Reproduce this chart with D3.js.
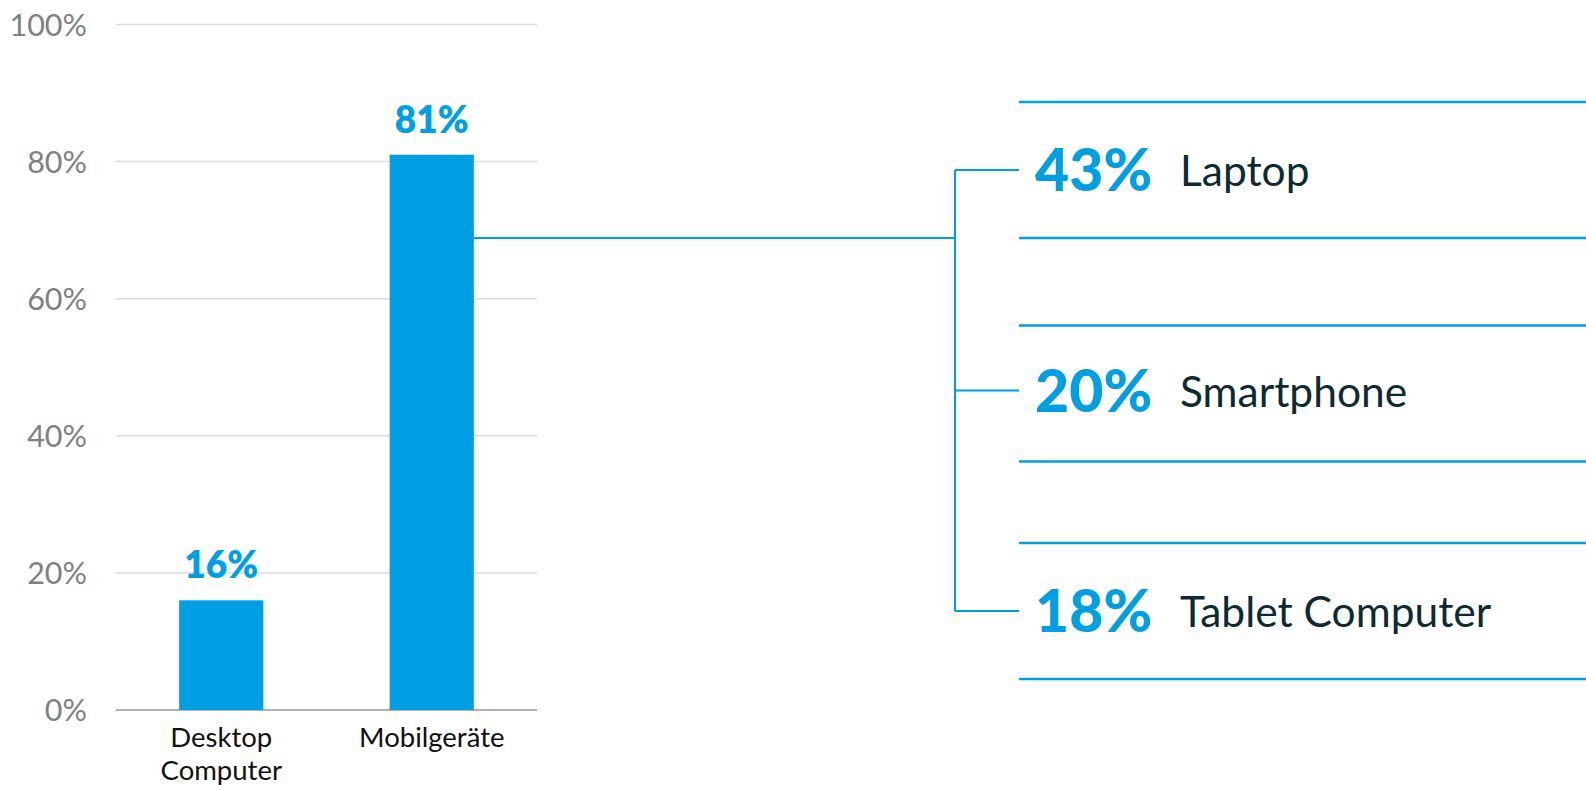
<!DOCTYPE html>
<html><head><meta charset="utf-8">
<script src="https://cdn.jsdelivr.net/npm/d3@7"></script>
<style>html,body{margin:0;padding:0;background:#fff;} svg{display:block}</style>
</head><body>
<svg id="c" width="1586" height="790"></svg>
<script>
// ---- data ----
const categories = ["Desktop Computer", "Mobilgeräte"];
const categoryLines = [["Desktop", "Computer"], ["Mobilgeräte"]];
const values = [16, 81];
const yTicks = [0, 20, 40, 60, 80, 100];
const subCategories = ["Laptop", "Smartphone", "Tablet Computer"];
const subValues = [43, 20, 18];

// ---- style ----
const BLUE = "#009fe3";
const TEXT = "#0d2a33";
const FONT = "Lato, 'Open Sans', sans-serif";

const svg = d3.select("#c");

const x = d3.scaleBand().domain(categories).range([116, 537]).paddingInner(0.6).paddingOuter(0.3);
const y = d3.scaleLinear().domain([0, 100]).range([710, 24.5]);

// axis labels
const yAxis = d3.axisLeft(y).tickValues(yTicks).tickFormat(d => d + "%").tickSize(0).tickPadding(0);
const gy = svg.append("g").attr("transform", "translate(87,0)").call(yAxis);
gy.select(".domain").remove();
gy.selectAll("text").attr("font-family", FONT).attr("font-size", 30.5).attr("fill", "#808080").attr("dy", "0.36em");

// grid
svg.append("g").selectAll("line").data(yTicks).join("line")
  .attr("x1", 116).attr("x2", 537)
  .attr("y1", d => y(d)).attr("y2", d => y(d))
  .attr("stroke", d => d === 0 ? "#9a9a9a" : "#dcdcdc")
  .attr("stroke-width", 1.5);

// bars
svg.append("g").selectAll("rect").data(values).join("rect")
  .attr("x", (d, i) => x(categories[i]))
  .attr("width", x.bandwidth())
  .attr("y", d => y(d))
  .attr("height", d => y(0) - y(d))
  .attr("fill", BLUE);

// value labels
svg.append("g").selectAll("text").data(values).join("text")
  .attr("x", (d, i) => x(categories[i]) + x.bandwidth() / 2)
  .attr("y", d => y(d) - 22)
  .attr("text-anchor", "middle")
  .attr("font-family", FONT).attr("font-weight", 800).attr("font-size", 37)
  .attr("fill", BLUE)
  .text(d => d + "%");

// category labels (one text element per line)
const catG = svg.append("g").selectAll("g").data(categoryLines).join("g")
  .attr("transform", (d, i) => `translate(${x(categories[i]) + x.bandwidth() / 2},747)`);
catG.selectAll("text").data(d => d).join("text")
  .attr("y", (d, i) => i * 33)
  .attr("text-anchor", "middle")
  .attr("font-family", FONT).attr("font-size", 27.5).attr("fill", "#111")
  .text(d => d);

// right panel
const rowY = d3.scalePoint().domain(subCategories).range([170, 611]);
const half = 68;
const bracketX = 955, lineX0 = 1019, lineX1 = 1586;
const mobile = categories[1];
const connectY = rowY(subCategories[0]) + half;

const conn = svg.append("g").attr("stroke", BLUE).attr("stroke-width", 2).attr("fill", "none");
conn.append("line")
  .attr("x1", x(mobile) + x.bandwidth()).attr("x2", bracketX)
  .attr("y1", connectY).attr("y2", connectY);
conn.append("line")
  .attr("x1", bracketX).attr("x2", bracketX)
  .attr("y1", rowY(subCategories[0])).attr("y2", rowY(subCategories[subCategories.length - 1]));
conn.selectAll("line.tick").data(subCategories).join("line").attr("class", "tick")
  .attr("x1", bracketX).attr("x2", lineX0)
  .attr("y1", d => rowY(d)).attr("y2", d => rowY(d));

const rules = [];
subCategories.forEach((c, i) => {
  const shift = i === 1 ? 3 : 0;
  rules.push(rowY(c) - half + shift); rules.push(rowY(c) + half + shift);
});
svg.append("g").selectAll("line").data(rules).join("line")
  .attr("x1", lineX0).attr("x2", lineX1)
  .attr("y1", d => d).attr("y2", d => d)
  .attr("stroke", BLUE).attr("stroke-width", 2.5);

const rows = svg.append("g").selectAll("g").data(subCategories).join("g")
  .attr("transform", d => `translate(0,${rowY(d)})`);
rows.append("text")
  .attr("x", 1035).attr("y", 21)
  .attr("font-family", FONT).attr("font-weight", 900).attr("font-size", 59)
  .attr("fill", BLUE)
  .text((d, i) => subValues[i] + "%");
rows.append("text")
  .attr("x", 1180).attr("y", 16)
  .attr("font-family", FONT).attr("font-size", 42.5)
  .attr("fill", TEXT)
  .text(d => d);
</script>
</body></html>
